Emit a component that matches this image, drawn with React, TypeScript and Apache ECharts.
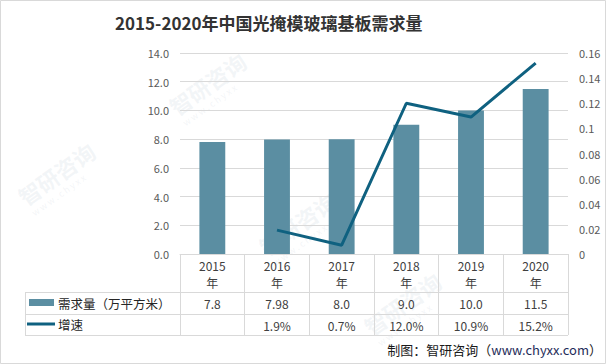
import React, { useEffect, useRef } from "react";
import * as echarts from "echarts";

const years = ["2015", "2016", "2017", "2018", "2019", "2020"];
const demand = [7.8, 7.98, 8.0, 9.0, 10.0, 11.5];
const growth: (number | null)[] = [null, 0.019, 0.007, 0.12, 0.109, 0.152];
const seriesNames = ["需求量（万平方米）", "增速"];
const titleText = "2015-2020年中国光掩模玻璃基板需求量";
const sourceText = "制图：智研咨询（";
const sourceUrl = "www.chyxx.com";

const FONT = "'Noto Sans CJK SC', 'Noto Sans', sans-serif";
const BAR = "#5B8EA2";
const LINE = "#0F6180";
const GRID = "#D9D9D9";
const TXT = "#404040";

const fmtDemand = (v: number) => (Math.round(v * 10) === v * 10 ? v.toFixed(1) : String(v));
const fmtGrowth = (v: number | null) => (v == null ? "" : (v * 100).toFixed(1) + "%");

const watermarks = [
  { x: 14, y: 190 },
  { x: 165, y: 100 },
  { x: 255, y: 240 },
  { x: 360, y: 320 },
];

export default function App() {
  const ref = useRef<HTMLDivElement>(null);
  useEffect(() => {
    if (!ref.current) return;
    const chart = echarts.init(ref.current, undefined, { renderer: "svg" });
    const wm: any[] = [];
    watermarks.forEach((w) => {
      wm.push({
        type: "text",
        x: w.x,
        y: w.y,
        rotation: 0.62,
        silent: true,
        z: 0,
        style: { text: "智研咨询", fill: "rgba(200,210,222,0.22)", font: `bold 22px ${FONT}` },
      });
      wm.push({
        type: "text",
        x: w.x + 16,
        y: w.y + 20,
        rotation: 0.62,
        silent: true,
        z: 0,
        style: { text: "w w w . c h y x x", fill: "rgba(200,210,222,0.22)", font: `9px ${FONT}` },
      });
    });
    chart.setOption({
      animation: false,
      backgroundColor: "#fff",
      title: {
        text: titleText,
        left: 110,
        top: 9,
        textStyle: { fontSize: 17, fontWeight: "bold", color: "#333", fontFamily: FONT },
      },
      grid: { left: 180, right: 38, top: 53, bottom: 110, containLabel: false, outerBoundsMode: "none" },
      xAxis: [
        {
          type: "category",
          data: years,
          axisLine: { lineStyle: { color: GRID } },
          axisTick: { show: true, length: 81, lineStyle: { color: GRID } },
          axisLabel: {
            formatter: (v: string) => v + "\n年",
            color: TXT,
            fontSize: 12,
            lineHeight: 17,
            margin: 3,
            fontFamily: FONT,
          },
        },
        {
          type: "category",
          data: years,
          position: "bottom",
          axisLine: { show: false },
          axisTick: { show: false },
          axisLabel: {
            interval: 0,
            formatter: (_v: string, i: number) => fmtDemand(demand[i]),
            color: TXT,
            fontSize: 12,
            verticalAlign: "middle",
            margin: 49,
            fontFamily: FONT,
          },
        },
        {
          type: "category",
          data: years,
          position: "bottom",
          axisLine: { show: false },
          axisTick: { show: false },
          axisLabel: {
            interval: 0,
            formatter: (_v: string, i: number) => fmtGrowth(growth[i]),
            color: TXT,
            fontSize: 12,
            verticalAlign: "middle",
            margin: 71,
            fontFamily: FONT,
          },
        },
      ],
      yAxis: [
        {
          type: "value",
          min: 0,
          max: 14,
          interval: 2,
          axisLine: { show: false },
          axisTick: { show: false },
          splitLine: { lineStyle: { color: GRID } },
          axisLabel: { formatter: (v: number) => v.toFixed(1), color: "#595959", fontSize: 11, margin: 11, fontFamily: FONT },
        },
        {
          type: "value",
          min: 0,
          max: 0.16,
          interval: 0.02,
          axisLine: { show: false },
          axisTick: { show: false },
          splitLine: { show: false },
          axisLabel: { formatter: (v: number) => String(+v.toFixed(2)), color: "#595959", fontSize: 11, margin: 11, fontFamily: FONT },
        },
      ],
      series: [
        {
          name: seriesNames[0],
          type: "bar",
          data: demand,
          barWidth: "40%",
          itemStyle: { color: BAR },
          z: 2,
        },
        {
          name: seriesNames[1],
          type: "line",
          yAxisIndex: 1,
          data: growth,
          symbol: "none",
          lineStyle: { color: LINE, width: 3 },
          itemStyle: { color: LINE },
          z: 3,
        },
      ],
      graphic: [
        ...wm,
        { type: "rect", shape: { x: 0.5, y: 0.5, width: 605, height: 363 }, style: { fill: "none", stroke: GRID, lineWidth: 1 }, silent: true },
        { type: "line", shape: { x1: 25, y1: 292.5, x2: 568, y2: 292.5 }, style: { stroke: GRID, lineWidth: 1 } },
        { type: "line", shape: { x1: 25, y1: 314.5, x2: 568, y2: 314.5 }, style: { stroke: GRID, lineWidth: 1 } },
        { type: "line", shape: { x1: 25, y1: 335.5, x2: 568, y2: 335.5 }, style: { stroke: GRID, lineWidth: 1 } },
        { type: "line", shape: { x1: 25.5, y1: 292, x2: 25.5, y2: 336 }, style: { stroke: GRID, lineWidth: 1 } },
        { type: "rect", shape: { x: 29, y: 299, width: 25, height: 7 }, style: { fill: BAR } },
        { type: "line", shape: { x1: 27, y1: 324, x2: 55, y2: 324 }, style: { stroke: LINE, lineWidth: 3 } },
        {
          type: "text",
          x: 58,
          y: 303,
          style: { text: seriesNames[0], fill: "#262626", font: `12.5px ${FONT}`, verticalAlign: "middle" },
        },
        {
          type: "text",
          x: 58,
          y: 324,
          style: { text: seriesNames[1], fill: "#262626", font: `12.5px ${FONT}`, verticalAlign: "middle" },
        },
        {
          type: "text",
          right: 4,
          top: 343,
          style: {
            text: `${sourceText}{u|${sourceUrl}}）`,
            fill: "#1a1a1a",
            font: `13px ${FONT}`,
            rich: { u: { fill: "#1F2D5A", font: `13px ${FONT}` } },
          },
        },
      ],
    });
    return () => chart.dispose();
  }, []);
  return <div ref={ref} style={{ position: "absolute", left: 0, top: 0, width: 606, height: 364 }} />;
}
